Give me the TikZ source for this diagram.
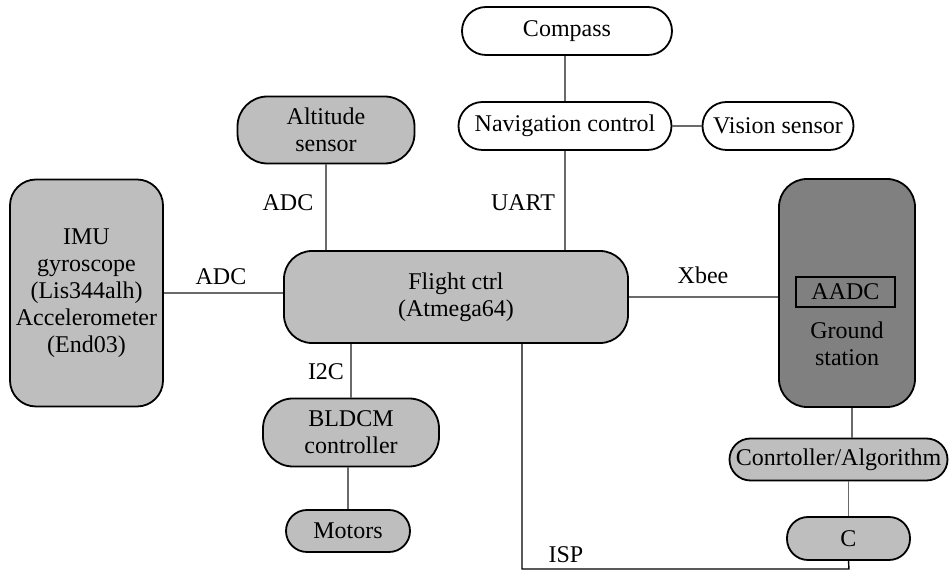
\documentclass[tikz,border=0pt]{standalone}
\usepackage{fontspec}
\setmainfont{Liberation Serif}
\usetikzlibrary{calc}
\definecolor{boxgray}{HTML}{BEBEBE}
\definecolor{darkbox}{HTML}{808080}
\definecolor{wiregray}{HTML}{6A6A6A}
\begin{document}
\begin{tikzpicture}[x=0.5pt,y=-0.5pt,
    every node/.style={font=\fontsize{12}{13.5}\selectfont,align=center,inner sep=0pt},
    blk/.style={draw,line width=0.9pt,fill=boxgray,rounded corners=#1},
    blk/.default=12pt,
    wblk/.style={blk,fill=white},
    wire/.style={draw=wiregray,line width=0.7pt}]
  \useasboundingbox (0,0) rectangle (950,571);

  \node[blk=13pt,minimum width=76.5pt,minimum height=113.5pt] (imu) at (86.5,293)
    {IMU\\gyroscope\\(Lis344alh)\\Accelerometer\\(End03)};
  \node[blk=15pt,minimum width=88.5pt,minimum height=33.5pt] (alt) at (326,130) {Altitude\\sensor};
  \node[blk=14pt,minimum width=172pt,minimum height=46pt] (flight) at (456,297) {Flight ctrl\\(Atmega64)};

  \node[wblk=11.5pt,minimum width=105pt,minimum height=24pt] (compass) at (567,31) {Compass};
  \node[wblk=11.5pt,minimum width=106.5pt,minimum height=24pt] (nav) at (565,126) {Navigation control};
  \node[wblk=11.5pt,minimum width=75.5pt,minimum height=24pt] (vision) at (778,126) {Vision sensor};

  \node[blk=14pt,fill=darkbox,minimum width=68pt,minimum height=114pt] (ground) at (847,293) {};
  \node[draw,line width=0.9pt,minimum width=49.5pt,minimum height=15pt] (aadc) at (845.5,292) {AADC};
  \node (gtext) at (847,343.5) {Ground\\station};

  \node[blk=15pt,minimum width=88pt,minimum height=34pt] (bldcm) at (351,432.5) {BLDCM\\controller};
  \node[blk=10.5pt,minimum width=62pt,minimum height=21pt] (motors) at (348,531) {Motors};

  \node[blk=10.5pt,minimum width=109pt,minimum height=21pt] (algo) at (838.5,459.5) {Conrtoller/Algorithm};
  \node[blk=10.5pt,minimum width=61.5pt,minimum height=21.5pt] (cbox) at (848.5,538.5) {C};
  \coordinate (ispturn) at (849,569);

  % connectors
  \draw[wire] (imu.east) -- (imu.east -| flight.west);
  \draw[wire] (alt.south) -- (alt.south |- flight.north);
  \draw[wire] (compass.south -| nav) -- (nav.north);
  \draw[wire] (nav.east) -- (vision.west);
  \draw[wire] (nav.south) -- (nav.south |- flight.north);
  \draw[wire] (flight.east) -- (flight.east -| ground.west);
  \draw[wire] (bldcm.north) -- (bldcm.north |- flight.south);
  \draw[wire] (bldcm.south -| motors.north) -- (motors.north);
  \draw[wire] ([xshift=2.5pt]ground.south) -- ([xshift=2.5pt]ground.south |- algo.north);
  \draw[wire] (cbox.north) -- (cbox.north |- algo.south);
  \draw[wire,draw=black] ([xshift=33pt]flight.south) |- (ispturn) -- (cbox.south);

  % labels
  \node (adcalt) at (288,203) {ADC};
  \node (adcimu) at (221,277) {ADC};
  \node (uart) at (523,203) {UART};
  \node (xbee) at (703,275) {Xbee};
  \node (itwoc) at (326,372) {I2C};
  \node (isp) at (566,555) {ISP};
\end{tikzpicture}
\end{document}
